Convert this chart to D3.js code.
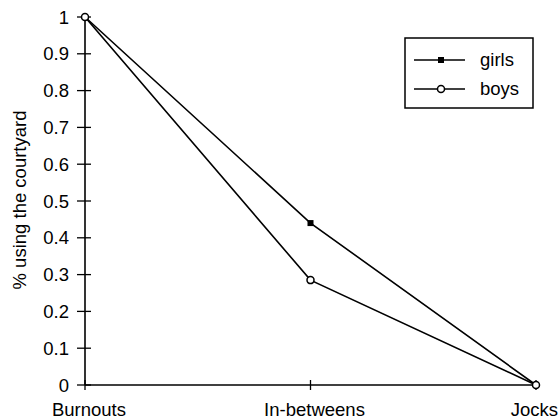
<!DOCTYPE html>
<html>
<head>
<meta charset="utf-8">
<script src="https://cdn.jsdelivr.net/npm/d3@7"></script>
<style>
  body { margin: 0; background: #fff; }
  text { font-family: "Liberation Sans", Arial, sans-serif; fill: #000; }
</style>
</head>
<body>
<div id="chart"></div>
<script>
// groups along the x axis
const groups = ["Burnouts", "In-betweens", "Jocks"];
// share using the courtyard
const girls = [1, 0.44, 0];
const boys = [1, 0.285, 0];
const yTicks = [0, 0.1, 0.2, 0.3, 0.4, 0.5, 0.6, 0.7, 0.8, 0.9, 1];

const width = 560, height = 419;
const fs = "18.5px";

const svg = d3.select("#chart")
    .append("svg")
    .attr("width", width)
    .attr("height", height);

// escalas
const x = d3.scalePoint().domain(groups).range([85, 536]);
const y = d3.scaleLinear().domain([0, 1]).range([385, 17]);

// eje y con marcas que cruzan la línea
const yAxis = svg.append("g").attr("transform", "translate(85,0)");
yAxis.append("line")
    .attr("y1", y(0)).attr("y2", y(1))
    .attr("stroke", "#000").attr("stroke-width", 1.6);
yAxis.selectAll(".tick")
    .data(yTicks)
    .enter()
    .append("line")
    .attr("x1", -8).attr("x2", 6)
    .attr("y1", d => y(d)).attr("y2", d => y(d))
    .attr("stroke", "#000").attr("stroke-width", 1.3);
yAxis.selectAll(".lab")
    .data(yTicks)
    .enter()
    .append("text")
    .attr("x", -16)
    .attr("y", d => y(d))
    .attr("dy", "0.36em")
    .attr("text-anchor", "end")
    .style("font-size", fs)
    .text(d => d3.format("~g")(d));

// eje x
const xAxis = svg.append("g").attr("transform", `translate(0,${y(0)})`);
xAxis.append("line")
    .attr("x1", x(groups[0])).attr("x2", x(groups[groups.length - 1]))
    .attr("stroke", "#000").attr("stroke-width", 1.3);
xAxis.selectAll(".tick")
    .data(groups)
    .enter()
    .append("line")
    .attr("x1", d => x(d)).attr("x2", d => x(d))
    .attr("y1", -5).attr("y2", 5)
    .attr("stroke", "#000").attr("stroke-width", 1.3);
// la última etiqueta se alinea al borde derecho para que no se corte
xAxis.selectAll(".lab")
    .data(groups)
    .enter()
    .append("text")
    .attr("x", (d, i) => i === groups.length - 1 ? width - 2 : x(d) + 4)
    .attr("y", 31)
    .attr("text-anchor", (d, i) => i === groups.length - 1 ? "end" : "middle")
    .style("font-size", fs)
    .text(d => d);

// título del eje y
svg.append("text")
    .attr("transform", `translate(26,200) rotate(-90)`)
    .attr("text-anchor", "middle")
    .style("font-size", fs)
    .text("% using the courtyard");

// líneas de las series
const line = d3.line()
    .x((d, i) => x(groups[i]))
    .y(d => y(d));

const series = [
    { name: "girls", values: girls, filled: true },
    { name: "boys", values: boys, filled: false }
];

series.forEach(s => {
    svg.append("path")
        .datum(s.values)
        .attr("d", line)
        .attr("fill", "none")
        .attr("stroke", "#000")
        .attr("stroke-width", 1.6);
});

series.forEach(s => {
    svg.selectAll(".pt-" + s.name)
        .data(s.values)
        .enter()
        .append(s.filled ? "rect" : "circle")
        .each(function(d, i) {
            const el = d3.select(this);
            if (s.filled) {
                el.attr("x", x(groups[i]) - 3).attr("y", y(d) - 3)
                  .attr("width", 6).attr("height", 6)
                  .attr("fill", "#000");
            } else {
                el.attr("cx", x(groups[i])).attr("cy", y(d)).attr("r", 3.5)
                  .attr("fill", "#fff").attr("stroke", "#000").attr("stroke-width", 1.5);
            }
        });
});

// leyenda
const legend = svg.append("g").attr("transform", "translate(405,38)");
legend.append("rect")
    .attr("width", 128).attr("height", 70)
    .attr("fill", "#fff").attr("stroke", "#000").attr("stroke-width", 1.5);
series.forEach((s, i) => {
    const ly = 22 + i * 29;
    legend.append("line")
        .attr("x1", 9).attr("x2", 60)
        .attr("y1", ly).attr("y2", ly)
        .attr("stroke", "#000").attr("stroke-width", 1.6);
    if (s.filled) {
        legend.append("rect")
            .attr("x", 33).attr("y", ly - 3).attr("width", 6).attr("height", 6)
            .attr("fill", "#000");
    } else {
        legend.append("circle")
            .attr("cx", 36).attr("cy", ly).attr("r", 3.5)
            .attr("fill", "#fff").attr("stroke", "#000").attr("stroke-width", 1.5);
    }
    legend.append("text")
        .attr("x", 75).attr("y", ly)
        .attr("dy", "0.32em")
        .style("font-size", fs)
        .text(s.name);
});
</script>
</body>
</html>
